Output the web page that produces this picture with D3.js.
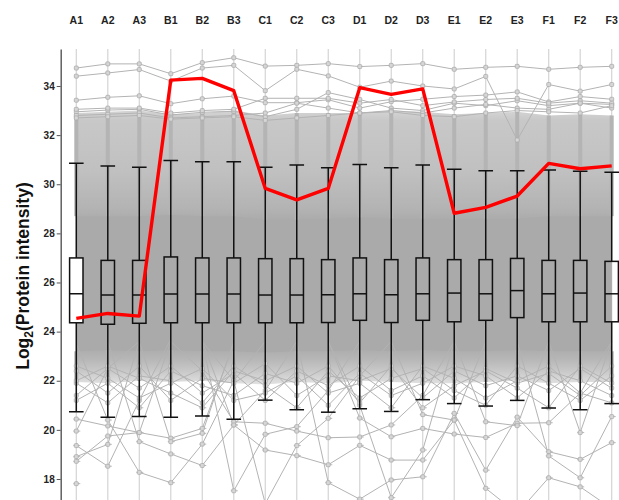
<!DOCTYPE html>
<html>
<head>
<meta charset="utf-8">
<script src="https://cdn.jsdelivr.net/npm/d3@7"></script>
<style>
  body { margin: 0; background: #fff; }
  svg { display: block; font-family: "Liberation Sans", Arial, sans-serif; }
</style>
</head>
<body>
<div id="chart"></div>
<script>
// Protein intensity profiles across samples, with boxplots and one highlighted protein
const W = 619, H = 500;

const samples = ["A1","A2","A3","B1","B2","B3","C1","C2","C3","D1","D2","D3","E1","E2","E3","F1","F2","F3"];
const yTicks = [18, 20, 22, 24, 26, 28, 30, 32, 34];

// boxplot stats per sample
const whiskerHigh = [30.85,30.74,30.69,30.97,30.92,30.92,30.69,30.78,30.67,30.80,30.67,30.78,30.61,30.55,30.55,30.58,30.53,30.49];
const q3 =          [27.00,26.90,26.90,27.04,27.00,27.00,26.97,26.97,26.93,27.00,26.93,27.00,26.93,26.93,26.98,26.90,26.90,26.86];
const median =      [25.54,25.49,25.49,25.53,25.53,25.53,25.49,25.49,25.50,25.54,25.50,25.54,25.57,25.54,25.67,25.54,25.57,25.54];
const q1 =          [24.36,24.30,24.34,24.36,24.36,24.36,24.36,24.36,24.37,24.46,24.37,24.46,24.40,24.46,24.57,24.40,24.40,24.40];
const whiskerLow =  [20.74,20.51,20.54,20.51,20.56,20.43,21.21,20.82,20.72,20.86,20.75,21.23,21.07,20.97,21.20,20.89,20.82,21.07];

// highlighted protein (red)
const highlight = [24.54,24.74,24.63,34.24,34.31,33.81,29.83,29.36,29.83,33.93,33.66,33.88,28.82,29.06,29.52,30.85,30.63,30.75];

// envelope of the dense mass of profiles
const bandTop =    [32.90,32.95,33.00,32.85,32.90,33.00,32.80,32.90,32.90,32.90,33.00,32.95,32.85,32.90,32.95,32.80,32.85,32.80];
const coreTop =    [28.70,28.70,28.70,28.75,28.70,28.70,28.55,28.55,28.60,28.65,28.60,28.60,28.55,28.60,28.60,28.70,28.70,28.70];
const coreBottom = [23.20,23.25,23.20,23.25,23.20,23.20,23.15,23.20,23.20,23.25,23.20,23.25,23.20,23.20,23.25,23.20,23.20,23.20];
const bandBottom = [21.95,21.90,22.00,21.95,22.00,21.90,21.85,21.95,21.90,22.00,21.95,21.90,21.90,21.95,22.00,21.90,21.95,21.95];

// individually visible profiles above the mass
const highProfiles = [
  [34.73,34.90,34.90,34.50,34.95,35.15,34.81,34.84,34.91,34.79,34.84,34.91,34.68,34.76,34.80,34.68,34.76,34.80],
  [34.40,34.53,34.67,34.20,34.73,34.84,33.81,34.68,34.41,33.95,34.20,34.00,33.88,34.39,31.80,34.06,33.79,34.06],
  [33.42,33.54,33.60,33.28,33.48,33.59,33.32,33.32,33.44,33.10,33.36,33.46,33.57,33.63,33.76,33.35,33.57,33.46],
  [32.95,33.02,33.05,32.82,32.93,32.97,32.75,33.05,33.73,33.45,33.10,33.00,33.30,33.20,33.40,33.20,33.30,33.25],
  [33.05,33.10,33.10,32.90,33.00,33.05,33.50,33.50,33.50,33.30,33.45,33.20,33.35,33.45,33.50,33.30,33.40,33.30],
  [32.80,32.85,32.90,32.70,32.75,32.80,32.90,33.30,33.10,32.90,33.00,32.90,33.10,33.25,33.10,33.05,33.30,33.10],
  [32.70,32.75,32.80,32.65,32.70,32.75,32.60,32.70,32.80,32.90,32.95,32.80,32.75,32.90,33.00,32.95,32.90,33.20]
];

// individually visible profiles below the mass (null = hidden inside the mass)
const lowProfiles = [
  [18.91,19.41,23.60,null,null,null,null,null,null,null,null,null,null,null,null,null,null,null],
  [19.36,18.52,21.20,23.70,null,null,null,null,null,null,null,null,null,null,null,null,null,null],
  [20.44,20.16,19.89,19.66,20.06,23.50,null,null,null,null,null,null,null,null,null,null,null,null],
  [23.50,20.40,18.27,17.85,19.42,22.00,23.60,null,null,null,null,null,null,null,null,null,null,null],
  [null,23.60,19.52,19.02,18.55,20.20,21.60,23.60,null,null,null,null,null,null,null,null,null,null],
  [19.95,22.50,23.60,null,null,null,null,null,null,null,null,null,null,null,null,null,null,null],
  [18.72,19.75,19.89,23.60,null,null,null,null,null,null,null,null,null,null,null,null,null,null],
  [17.81,null,null,null,null,null,null,null,null,null,null,null,null,null,null,null,null,null],
  [null,null,23.60,19.52,19.86,23.60,null,null,null,null,null,null,null,null,null,null,null,null],
  [null,null,null,null,23.60,17.52,19.82,20.13,21.60,23.60,null,null,null,null,null,null,null,null],
  [null,null,null,null,23.60,22.00,17.00,19.36,20.47,22.20,23.60,null,null,null,null,null,null,null],
  [null,null,null,23.60,22.40,20.33,20.27,19.95,19.68,19.71,20.20,21.40,23.60,null,null,null,null,null],
  [null,null,null,null,23.60,20.20,19.18,18.95,18.58,19.37,18.77,18.77,20.40,23.60,null,null,null,null],
  [null,null,null,null,null,null,null,23.60,17.85,17.18,17.96,18.09,20.67,18.36,20.52,19.11,18.80,19.48],
  [null,null,null,null,null,null,null,null,23.60,20.48,19.72,20.06,19.83,19.69,20.27,20.29,21.50,23.60],
  [null,null,null,null,null,null,null,null,23.60,21.00,17.24,19.18,23.60,null,null,null,null,null],
  [null,null,null,null,null,null,null,null,null,null,23.60,20.62,20.40,17.62,16.60,18.05,17.68,16.80],
  [null,null,null,null,null,null,null,null,null,null,null,null,null,null,23.60,18.94,18.05,20.54],
  [null,null,null,null,null,null,null,null,null,null,null,null,23.60,20.33,20.17,23.60,null,null],
  [null,null,null,null,null,null,null,null,null,null,null,null,null,null,null,23.60,19.89,23.60]
];

// tangled profiles at the lower fringe of the mass
const fringeProfiles = [
  [22.4,21.5,22.6,21.2,22.1,21.9,22.7,21.4,22.2,22.0,22.5,21.3,22.4,21.8,22.2,21.6,22.5,21.7],
  [21.4,22.5,21.7,22.6,21.5,22.3,21.2,22.4,21.8,22.6,21.6,22.2,21.3,22.5,21.9,22.3,21.4,22.6],
  [21.9,21.1,22.2,22.0,21.1,22.6,21.8,20.9,22.4,21.3,22.1,22.5,21.6,21.0,22.6,21.9,21.2,22.2],
  [22.6,22.1,21.3,21.9,22.5,21.2,21.5,22.2,21.0,22.3,21.4,21.9,22.6,22.2,21.3,22.4,22.0,21.4],
  [21.2,21.9,20.9,22.4,21.8,21.4,22.3,21.9,22.6,21.1,22.6,20.9,21.8,22.4,21.7,20.9,22.6,21.9],
  [22.0,22.6,22.1,21.5,20.9,22.4,22.0,22.6,21.5,21.9,20.9,22.6,22.1,21.3,22.0,22.6,21.5,21.1]
];

const svg = d3.select("#chart").append("svg").attr("width", W).attr("height", H);

const plotTop = 49, plotBottom = H, axisX = 60.7;
const x = d3.scalePoint().domain(samples).range([76.3, 611.7]);
const y = d3.scaleLinear().domain([17.145, 35.506]).range([plotBottom, plotTop]);

const defs = svg.append("defs");
defs.append("clipPath").attr("id", "plot")
  .append("rect").attr("x", axisX).attr("y", plotTop).attr("width", W - axisX).attr("height", plotBottom - plotTop);

const plot = svg.append("g").attr("clip-path", "url(#plot)");

// vertical sample axes
plot.selectAll(".vline").data(samples).join("line")
  .attr("x1", d => x(d)).attr("x2", d => x(d))
  .attr("y1", plotTop).attr("y2", plotBottom)
  .attr("stroke", "#d4d4d4").attr("stroke-width", 1.2);

// dense mass of profiles: shaded band
const gTop = 33.2, gBot = 21.8;
const grad = defs.append("linearGradient")
  .attr("id", "bandGrad").attr("gradientUnits", "userSpaceOnUse")
  .attr("x1", 0).attr("x2", 0).attr("y1", y(gTop)).attr("y2", y(gBot));
const gstops = [
  [33.2, "#dadada"], [32.6, "#c8c8c8"], [30.5, "#c0c0c0"], [29.0, "#b3b3b3"], [28.5, "#aaaaaa"],
  [23.4, "#aaaaaa"], [22.9, "#b6b6b6"], [22.4, "#c8c8c8"], [21.8, "#e4e4e4"]
];
grad.selectAll("stop").data(gstops).join("stop")
  .attr("offset", d => ((y(d[0]) - y(gTop)) / (y(gBot) - y(gTop)) * 100) + "%")
  .attr("stop-color", d => d[1]);

const idx = d3.range(samples.length);
plot.append("path")
  .datum(idx)
  .attr("fill", "url(#bandGrad)")
  .attr("d", d3.area().x(i => x(samples[i])).y0(i => y(bandBottom[i])).y1(i => y(bandTop[i])));

plot.append("path")
  .datum(idx)
  .attr("fill", "#aaaaaa")
  .attr("d", d3.area().x(i => x(samples[i])).y0(i => y(coreBottom[i])).y1(i => y(coreTop[i])));

// stacked markers along each sample axis inside the mass
plot.selectAll(".mstrip").data(idx).join("rect")
  .attr("x", i => x(samples[i]) - 2).attr("width", 4)
  .attr("y", i => y(bandTop[i])).attr("height", i => y(coreTop[i]) - y(bandTop[i]))
  .attr("fill", "#b4b4b4");
plot.selectAll(".mstrip2").data(idx).join("rect")
  .attr("x", i => x(samples[i]) - 2).attr("width", 4)
  .attr("y", i => y(coreBottom[i])).attr("height", i => y(bandBottom[i]) - y(coreBottom[i]))
  .attr("fill", "#b4b4b4");

// visible single profiles
const line = d3.line()
  .defined(d => d != null)
  .x((d, i) => x(samples[i]))
  .y(d => y(d));

const profiles = highProfiles.concat(lowProfiles, fringeProfiles);
plot.selectAll(".prof").data(profiles).join("path")
  .attr("fill", "none").attr("stroke", "#b3b3b3").attr("stroke-width", 1)
  .attr("d", line);

const pts = [];
profiles.forEach(p => p.forEach((v, i) => {
  if (v != null && (v > coreTop[i] || v < coreBottom[i])) pts.push({ s: samples[i], v });
}));
plot.selectAll(".dash").data(pts.filter(d => d.v < 21.0)).join("line")
  .attr("x1", d => x(d.s) - 3).attr("x2", d => x(d.s) + 4)
  .attr("y1", d => y(d.v)).attr("y2", d => y(d.v))
  .attr("stroke", "#b8b8b8").attr("stroke-width", 1);
plot.selectAll(".pt").data(pts).join("rect")
  .attr("x", d => x(d.s) - 2).attr("y", d => y(d.v) - 2)
  .attr("width", 4).attr("height", 4).attr("rx", 1)
  .attr("fill", "#d6d6d6").attr("stroke", "#ababab").attr("stroke-width", 0.8);

// boxplots (first sample box is drawn filled white, as in the source figure)
const boxW = 13.4, capW = 14.6;
const boxes = plot.selectAll(".box").data(idx).join("g")
  .attr("transform", i => `translate(${x(samples[i])},0)`)
  .attr("stroke", "#111").attr("stroke-width", 1.5);
boxes.append("line").attr("y1", i => y(whiskerHigh[i])).attr("y2", i => y(q3[i]));
boxes.append("line").attr("y1", i => y(q1[i])).attr("y2", i => y(whiskerLow[i]));
boxes.append("line").attr("x1", -capW / 2).attr("x2", capW / 2)
  .attr("y1", i => y(whiskerHigh[i])).attr("y2", i => y(whiskerHigh[i]));
boxes.append("line").attr("x1", -capW / 2).attr("x2", capW / 2)
  .attr("y1", i => y(whiskerLow[i])).attr("y2", i => y(whiskerLow[i]));
boxes.append("rect").attr("x", -boxW / 2).attr("width", boxW)
  .attr("y", i => y(q3[i])).attr("height", i => y(q1[i]) - y(q3[i]))
  .attr("fill", i => i === 0 ? "#fff" : "none");
boxes.append("line").attr("x1", -boxW / 2).attr("x2", boxW / 2)
  .attr("y1", i => y(median[i])).attr("y2", i => y(median[i]));

// highlighted protein
plot.append("path").datum(highlight)
  .attr("fill", "none").attr("stroke", "#ff0000").attr("stroke-width", 3.4)
  .attr("stroke-linejoin", "round")
  .attr("d", line);

// y axis
const yAxis = svg.append("g").attr("transform", `translate(${axisX},0)`)
  .call(d3.axisLeft(y).tickValues(yTicks).tickSize(4).tickSizeOuter(0).tickPadding(2));
yAxis.select(".domain").attr("stroke", "#555").attr("stroke-width", 1.4);
yAxis.selectAll(".tick line").attr("stroke", "#555").attr("stroke-width", 1);
yAxis.selectAll(".tick text")
  .attr("font-size", 10).attr("font-weight", "bold").attr("fill", "#222")
  .attr("font-family", "Liberation Sans, Arial, sans-serif");

// sample labels
svg.selectAll(".slab").data(samples).join("text")
  .attr("x", d => x(d)).attr("y", 24)
  .attr("text-anchor", "middle")
  .attr("font-size", 10.5).attr("font-weight", "bold").attr("fill", "#222")
  .text(d => d);

// y axis title
const ttl = svg.append("text")
  .attr("transform", "translate(29,276) rotate(-90)")
  .attr("text-anchor", "middle")
  .attr("font-size", 17.5).attr("font-weight", "bold").attr("fill", "#111");
ttl.append("tspan").text("Log");
ttl.append("tspan").attr("font-size", 12).attr("dy", 4).text("2");
ttl.append("tspan").attr("dy", -4).text("(Protein intensity)");
</script>
</body>
</html>
